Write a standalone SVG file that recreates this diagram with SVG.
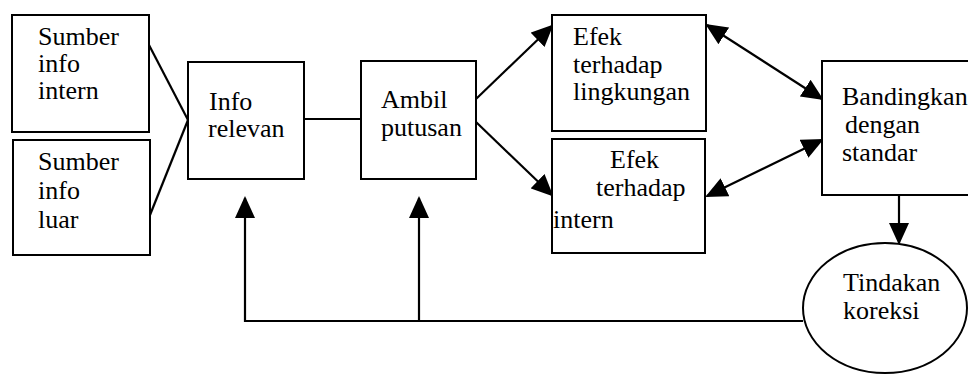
<svg xmlns="http://www.w3.org/2000/svg" width="968" height="375" viewBox="0 0 968 375">
  <style>
    .box { fill: #fff; stroke: #000; stroke-width: 2; }
    .lbl { font-family: 'Liberation Serif', 'Times New Roman', serif; font-size: 26px; fill: #000; }
    .ln { fill: none; stroke: #000; stroke-width: 2.2; }
    .arr { marker-end: url(#head); }
    .arr2 { marker-start: url(#head); marker-end: url(#head); }
  </style>
  <defs>
    <marker id="head" viewBox="0 0 22 20" refX="20" refY="10" markerWidth="22" markerHeight="20" markerUnits="userSpaceOnUse" orient="auto-start-reverse">
      <path d="M0,0 L22,10 L0,20 Z" fill="#000"/>
    </marker>
  </defs>
  <rect width="968" height="375" fill="#fff"/>

  <!-- connectors -->
  <g id="connectors">
    <path class="ln" d="M149,45 L188,120"/>
    <path class="ln" d="M150,215 L188,120"/>
    <path class="ln" d="M304,119 L361,119"/>
    <path class="ln arr" d="M476,99 L552,26"/>
    <path class="ln arr" d="M476,122 L552,195"/>
    <path class="ln arr2" d="M707,25 L822,99"/>
    <path class="ln arr2" d="M707,196 L822,140"/>
    <path class="ln arr" d="M899,195 L899,243"/>
    <path class="ln arr" d="M803,321 L245,321 L245,198"/>
    <path class="ln arr" d="M419,321 L419,198"/>
  </g>

  <g id="sumber-intern">
    <rect class="box" x="12" y="15" width="137" height="117"/>
    <text class="lbl" x="38" y="45">Sumber</text>
    <text class="lbl" x="38" y="72">info</text>
    <text class="lbl" x="38" y="99">intern</text>
  </g>

  <g id="sumber-luar">
    <rect class="box" x="13" y="140" width="137" height="115"/>
    <text class="lbl" x="38" y="170">Sumber</text>
    <text class="lbl" x="38" y="199">info</text>
    <text class="lbl" x="38" y="228">luar</text>
  </g>

  <g id="info-relevan">
    <rect class="box" x="188" y="62" width="116" height="117"/>
    <text class="lbl" x="209" y="110">Info</text>
    <text class="lbl" x="208" y="137">relevan</text>
  </g>

  <g id="ambil-putusan">
    <rect class="box" x="361" y="61" width="115" height="118"/>
    <text class="lbl" x="381" y="108">Ambil</text>
    <text class="lbl" x="381" y="136">putusan</text>
  </g>

  <g id="efek-lingkungan">
    <rect class="box" x="552" y="15" width="154" height="116"/>
    <text class="lbl" x="573" y="45">Efek</text>
    <text class="lbl" x="573" y="73">terhadap</text>
    <text class="lbl" x="573" y="100">lingkungan</text>
  </g>

  <g id="efek-intern">
    <rect class="box" x="552" y="139" width="153" height="114"/>
    <text class="lbl" x="610" y="168">Efek</text>
    <text class="lbl" x="596" y="196">terhadap</text>
    <text class="lbl" x="553" y="228">intern</text>
  </g>

  <g id="bandingkan">
    <rect class="box" x="822" y="61" width="160" height="134"/>
    <text class="lbl" x="842" y="105">Bandingkan</text>
    <text class="lbl" x="845" y="133">dengan</text>
    <text class="lbl" x="842" y="161">standar</text>
  </g>

  <g id="tindakan-koreksi">
    <ellipse class="box" cx="885" cy="308" rx="82" ry="65"/>
    <text class="lbl" x="843" y="291">Tindakan</text>
    <text class="lbl" x="843" y="319">koreksi</text>
  </g>
</svg>
